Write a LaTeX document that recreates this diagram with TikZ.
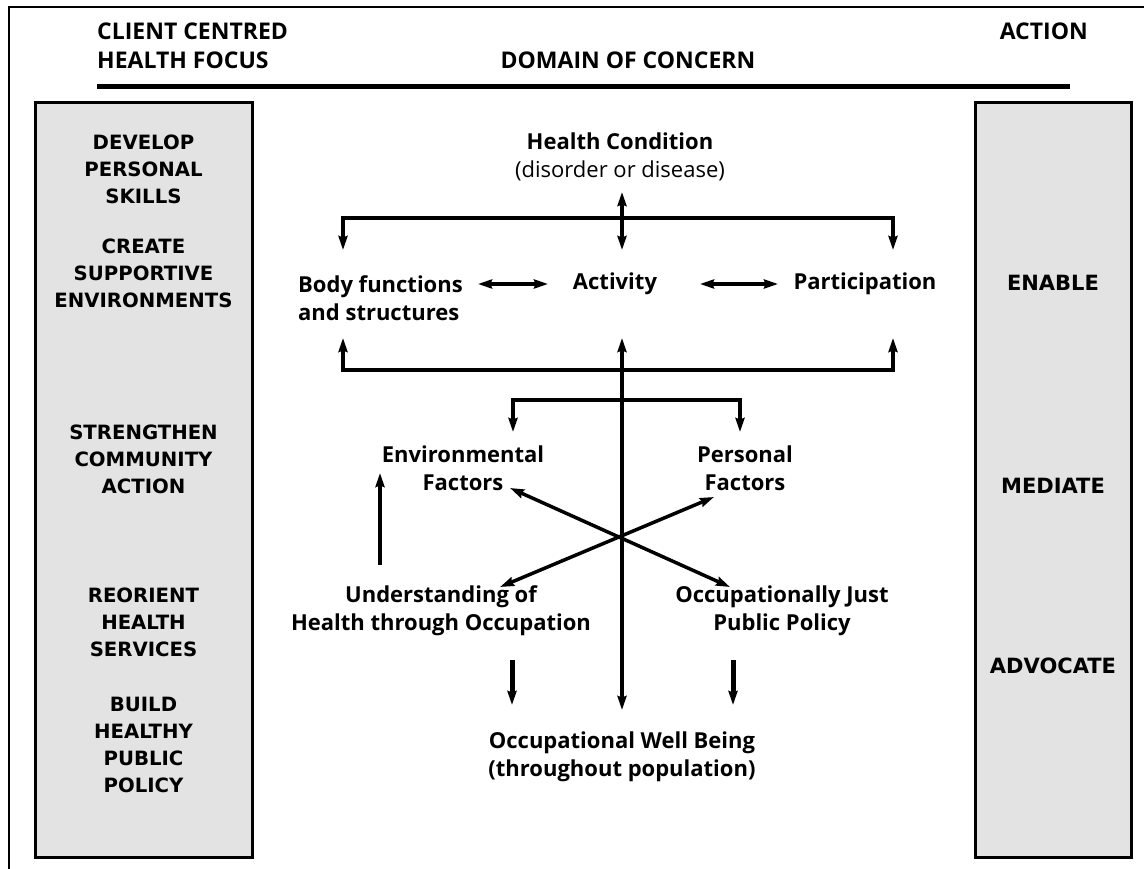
\documentclass[tikz,border=0pt]{standalone}
\usepackage{fontspec}
\setmainfont{Open Sans}
\newfontfamily\boxfont{DejaVu Sans}
\usetikzlibrary{arrows.meta}

\begin{document}
\begin{tikzpicture}[x=1pt,y=-1pt,
  >={Stealth[length=14pt,width=9pt,inset=1.5pt]},
  head/.style={font=\fontsize{23}{29}\selectfont\bfseries, inner sep=0pt},
  lbl/.style={font=\fontsize{22}{28}\selectfont\bfseries, align=center, inner sep=0pt},
  panel/.style={draw, line width=3pt, fill=black!11, inner sep=0pt},
  ptext/.style={font=\boxfont\fontsize{19.7}{27}\selectfont\bfseries, align=center, inner sep=0pt},
  atext/.style={font=\boxfont\fontsize{21}{27}\selectfont\bfseries, inner sep=0pt},
  link/.style={line width=4pt},
  thin link/.style={line width=3.5pt},
]
\useasboundingbox (0,0) rectangle (1144,869);

% outer frame and header rule
\draw[line width=2.5pt] (9,869) -- (9,7) -- (1144,7);
\draw[line width=5pt] (97,87) -- (1070,87);

% header
\node[head, anchor=west, align=left] (hfocus) at (97,46) {CLIENT CENTRED\\HEALTH FOCUS};
\node[head, anchor=east] (haction) at (1088,31) {ACTION};
\node[head] (hdomain) at (628,60) {DOMAIN OF CONCERN};

% side panels
\node[panel, minimum width=217pt, minimum height=754pt] (lbox) at (143.5,480) {};
\node[panel, minimum width=156pt, minimum height=754pt] (rbox) at (1053,480) {};

\node[ptext] (p1) at (143.5,169) {DEVELOP\\PERSONAL\\SKILLS};
\node[ptext] (p2) at (143.5,273) {CREATE\\SUPPORTIVE\\ENVIRONMENTS};
\node[ptext] (p3) at (143.5,459) {STRENGTHEN\\COMMUNITY\\ACTION};
\node[ptext] (p4) at (143.5,622) {REORIENT\\HEALTH\\SERVICES};
\node[ptext] (p5) at (143.5,745) {BUILD\\HEALTHY\\PUBLIC\\POLICY};

\node[atext] (a1) at (1053,283) {ENABLE};
\node[atext] (a2) at (1053,486) {MEDIATE};
\node[atext] (a3) at (1053,666) {ADVOCATE};

% domain of concern
\node[lbl] (hc) at (620,157) {Health Condition\\\mdseries(disorder or disease)};
\node[lbl, align=left, anchor=west] (body) at (298,298) {Body functions\\and structures};
\node[lbl] (act) at (615,284) {Activity};
\node[lbl] (part) at (865,284) {Participation};
\node[lbl] (env) at (463,468) {Environmental\\Factors};
\node[lbl] (pers) at (745,468) {Personal\\Factors};
\node[lbl] (und) at (441,611) {Understanding of\\Health through Occupation};
\node[lbl] (ojp) at (782,611) {Occupationally Just\\Public Policy};
\node[lbl] (owb) at (622,757) {Occupational Well Being\\(throughout population)};

% connector end points
\coordinate (hcA) at (622,192);
\coordinate (hcB) at (622,250);
\coordinate (t1) at (343,250);
\coordinate (t2) at (343,218);
\coordinate (t3) at (893,218);
\coordinate (t4) at (893,250);
\coordinate (b1) at (343,338);
\coordinate (b2) at (343,370);
\coordinate (b3) at (893,370);
\coordinate (b4) at (893,338);
\coordinate (cTop) at (622,338);
\coordinate (cBot) at (622,710);
\coordinate (f1) at (513,432);
\coordinate (f2) at (513,400);
\coordinate (f3) at (740,400);
\coordinate (f4) at (740,432);
\coordinate (xUL) at (510,488);
\coordinate (xLR) at (730,587);
\coordinate (xLL) at (500,587);
\coordinate (xUR) at (714,497);
\coordinate (upS) at (380,565);
\coordinate (upE) at (380,473);
\coordinate (dL1) at (512,660);
\coordinate (dL2) at (512,705);
\coordinate (dR1) at (733,660);
\coordinate (dR2) at (733,705);
\coordinate (h1) at (478,284);
\coordinate (h2) at (548,284);
\coordinate (h3) at (700,284);
\coordinate (h4) at (778,284);

% connectors
\draw[link, <->] (hcA) -- (hcB);
\draw[link, <->] (t1) -- (t2) -- (t3) -- (t4);
\draw[link, <->] (b1) -- (b2) -- (b3) -- (b4);
\draw[link, <->] (cTop) -- (cBot);
\draw[link, <->] (f1) -- (f2) -- (f3) -- (f4);
\draw[thin link, <->] (xUL) -- (xLR);
\draw[thin link, <->] (xLL) -- (xUR);
\draw[thin link, ->] (upS) -- (upE);
\draw[line width=5pt, ->] (dL1) -- (dL2);
\draw[line width=5pt, ->] (dR1) -- (dR2);
\draw[link, <->] (h1) -- (h2);
\draw[link, <->] (h3) -- (h4);
\end{tikzpicture}
\end{document}
